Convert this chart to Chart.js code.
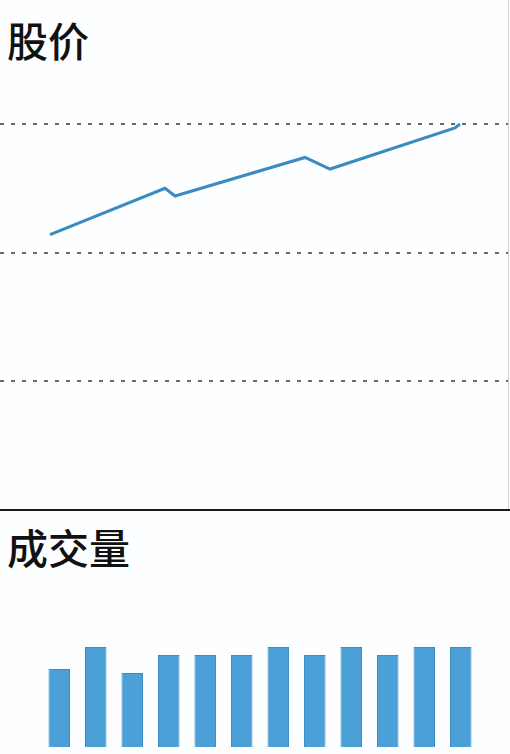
<!DOCTYPE html>
<html>
<head>
<meta charset="utf-8">
<script src="https://cdn.jsdelivr.net/npm/chart.js@4"></script>
<style>
  html, body { margin: 0; padding: 0; background: #fdfeff; }
  #wrap { position: relative; width: 510px; height: 754px; overflow: hidden; background: #fdfeff; }
  .title { position: absolute; left: 7px; font: 500 41px/41px "Noto Sans CJK SC", sans-serif; color: #111; }
  #priceBox { position: absolute; left: 0; top: 100px; width: 508px; height: 412px; }
  #volBox { position: absolute; left: 0; top: 640px; width: 510px; height: 114px; }
  #sep { position: absolute; left: 0; top: 509px; width: 510px; height: 2px; background: #1a1a1a; }
  #edge { position: absolute; left: 508px; top: 0; width: 1px; height: 510px; background: #d0d0d0; }
</style>
</head>
<body>
<div id="wrap">
  <div class="title" style="top:19px">股价</div>
  <div id="priceBox"><canvas id="priceChart" width="508" height="412"></canvas></div>
  <div id="edge"></div>
  <div id="sep"></div>
  <div class="title" style="top:526px">成交量</div>
  <div id="volBox"><canvas id="volChart" width="510" height="114"></canvas></div>
</div>
<script>
'use strict';

// ── price line (x = trading day, y = price)
const priceDays = [10, 33, 35, 61, 66, 91, 92];
const priceValues = [21.4, 25.0, 24.4, 27.4, 26.5, 29.7, 30.0];
const priceTicks = [0, 10, 20, 30];

// ── volume bars
const volumeLabels = ['1', '2', '3', '4', '5', '6', '7', '8', '9', '10', '11', '12'];
const volumeValues = [78, 100, 74, 92, 92, 92, 100, 92, 100, 92, 100, 100];

new Chart(document.getElementById('priceChart'), {
    type: 'line',
    data: {
        datasets: [{
            data: priceDays.map((d, i) => ({ x: d, y: priceValues[i] })),
            borderColor: '#3a8cc0',
            borderWidth: 3,
            pointRadius: 0,
            tension: 0,
            clip: false
        }]
    },
    options: {
        responsive: false,
        animation: false,
        layout: { padding: { top: 24, bottom: 2, left: 0, right: 0 } },
        plugins: { legend: { display: false }, tooltip: { enabled: false } },
        scales: {
            x: { type: 'linear', min: 0, max: 101.6, display: false },
            y: {
                min: 0,
                max: 30,
                afterBuildTicks: s => { s.ticks = priceTicks.map(v => ({ value: v })); },
                afterFit: s => { s.width = 0; },
                ticks: { display: false },
                border: { display: false, dash: [4, 7] },
                grid: {
                    drawTicks: false,
                    lineWidth: 2,
                    color: c => c.tick && c.tick.value === 0 ? 'rgba(0,0,0,0)' : '#6a6a6a'
                }
            }
        }
    }
});

new Chart(document.getElementById('volChart'), {
    type: 'bar',
    data: {
        labels: volumeLabels,
        datasets: [{
            data: volumeValues,
            backgroundColor: '#4ba1d7',
            borderColor: '#3d8dc2',
            borderWidth: 1,
            categoryPercentage: 1,
            barPercentage: 0.59
        }]
    },
    options: {
        responsive: false,
        animation: false,
        layout: { padding: { top: 7, bottom: 7, left: 41, right: 31 } },
        plugins: { legend: { display: false }, tooltip: { enabled: false } },
        scales: {
            x: { display: false },
            y: { display: false, min: 0, max: 100 }
        }
    }
});
</script>
</body>
</html>
